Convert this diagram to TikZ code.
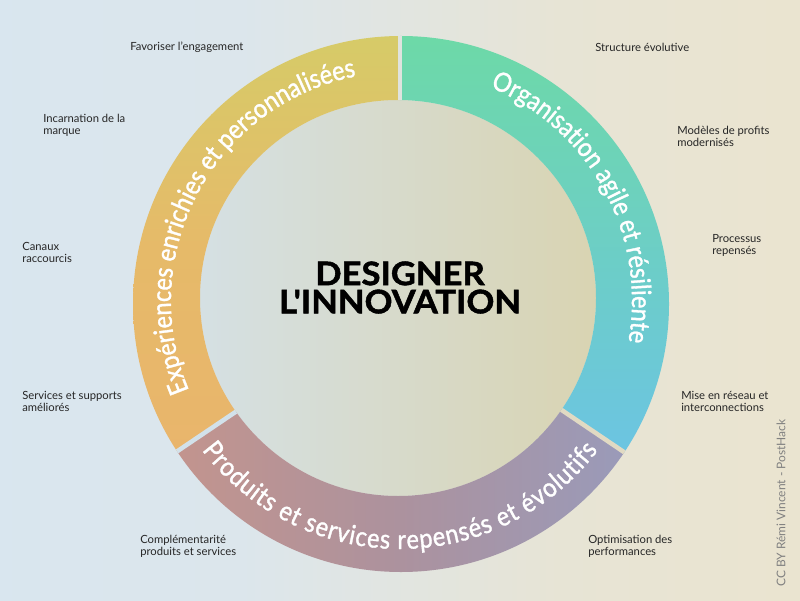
\documentclass[tikz,border=0pt]{standalone}
\usepackage{fontspec}
\setmainfont{Lato}
\newfontfamily\ringfont{Lato}[FakeStretch=0.88, FakeBold=1.3]
\newfontfamily\titlefont{Lato}[FakeStretch=1.07, BoldFeatures={FakeBold=1.6}]
\usetikzlibrary{decorations.text}
\definecolor{bgA}{HTML}{D4E5F3}
\definecolor{bgB}{HTML}{DCE6EC}
\definecolor{bgC}{HTML}{E7E4D5}
\definecolor{bgD}{HTML}{F0E5C7}
\definecolor{discL}{HTML}{D5E0E3}
\definecolor{discR}{HTML}{D9D4B2}
\definecolor{yelT}{HTML}{D6CB68}
\definecolor{yelM}{HTML}{E6BA69}
\definecolor{yelB}{HTML}{E9B56C}
\definecolor{grnT}{HTML}{6DD9A7}
\definecolor{grnB}{HTML}{6CC4E3}
\definecolor{botL}{HTML}{DA977D}
\definecolor{botM}{HTML}{AC929E}
\definecolor{botR}{HTML}{87A3D5}
\definecolor{gapT}{HTML}{DFE3DE}
\definecolor{gapL}{HTML}{D2E1EA}
\definecolor{gapR}{HTML}{E1DAC3}
\pgfdeclarehorizontalshading{bgshade}{100bp}{color(0bp)=(bgA); color(40bp)=(bgB); color(60bp)=(bgC); color(100bp)=(bgD)}
\pgfdeclarehorizontalshading{botshade}{100bp}{color(0bp)=(botL); color(50bp)=(botM); color(100bp)=(botR)}
\tikzset{
  lbl/.style={anchor=north west, inner sep=0pt, align=left, font=\fontsize{8}{8.5}\selectfont, text=black!85},
  ringtext/.style={decorate, decoration={text along path, text align=center, text color=white}},
  gapline/.style={line width=3.2pt}
}
\begin{document}
\begin{tikzpicture}[x=0.025cm,y=0.025cm]
\useasboundingbox (0,0) rectangle (800,600);
\shade[shading=bgshade] (0,0) rectangle (800,600);
\coordinate (C) at (400,299);
\coordinate (O1) at (401,296);
\coordinate (O2) at (398,302);
% inner disc
\shade[left color=discL, right color=discR] (O2) circle[radius=198];
% yellow segment
\begin{scope}[even odd rule]
  \clip (C) -- ([shift={(C)}]90:400) arc[start angle=90, end angle=214, radius=400] -- cycle;
  \clip (O1) circle[radius=268] (O2) circle[radius=198];
  \shade[top color=yelT, bottom color=yelB, middle color=yelM] (130,140) rectangle (402,566);
\end{scope}
% green-blue segment
\begin{scope}[even odd rule]
  \clip (C) -- ([shift={(C)}]-34:400) arc[start angle=-34, end angle=90, radius=400] -- cycle;
  \clip (O1) circle[radius=268] (O2) circle[radius=198];
  \shade[top color=grnT, bottom color=grnB] (398,140) rectangle (672,566);
\end{scope}
% bottom segment
\begin{scope}[even odd rule]
  \clip (C) -- ([shift={(C)}]214:400) arc[start angle=214, end angle=326, radius=400] -- cycle;
  \clip (O1) circle[radius=268] (O2) circle[radius=198];
  \shade[shading=botshade] (170,20) rectangle (630,200);
\end{scope}
% gaps
\begin{scope}[even odd rule]
  \clip (O1) circle[radius=268] (O2) circle[radius=198];
  \draw[gapline, gapT] ([shift={(C)}]90:180) -- ([shift={(C)}]90:290);
  \draw[gapline, gapL] ([shift={(C)}]214:180) -- ([shift={(C)}]214:290);
  \draw[gapline, gapR] ([shift={(C)}]326:180) -- ([shift={(C)}]326:290);
\end{scope}
% ring texts
\path[ringtext, decoration={text={|\ringfont\fontsize{19}{20}\selectfont|Expériences enrichies et personnalisées}}]
  ([shift={(C)}]212:229) arc[start angle=212, end angle=92, radius=229];
\path[ringtext, decoration={text={|\ringfont\fontsize{19}{20}\selectfont|Organisation agile et résiliente}}]
  ([shift={(C)}]88:232) arc[start angle=88, end angle=-31, radius=232];
\path[ringtext, decoration={text align={fit to path}, text={|\ringfont\fontsize{19}{20}\selectfont|Produits et services repensés et évolutifs}}]
  ([shift={(C)}]217:248) arc[start angle=217, end angle=323, radius=248];
% title
\node[align=center, inner sep=0pt, font=\titlefont\fontsize{23}{20}\selectfont\bfseries] (title) at (400,312.5) {DESIGNER\\L\symbol{39}INNOVATION};
% labels
\node[lbl] (l1) at (130,558) {Favoriser l\symbol{39}engagement};
\node[lbl] (l2) at (43,486) {Incarnation de la\\marque};
\node[lbl] (l3) at (22,358) {Canaux\\raccourcis};
\node[lbl] (l4) at (22,209) {Services et supports\\améliorés};
\node[lbl] (l5) at (140,65) {Complémentarité\\produits et services};
\node[lbl] (r1) at (595,557) {Structure évolutive};
\node[lbl] (r2) at (677,474) {Modèles de profits\\modernisés};
\node[lbl] (r3) at (712,366) {Processus\\repensés};
\node[lbl] (r4) at (681,209) {Mise en réseau et\\interconnections};
\node[lbl] (r5) at (588,65) {Optimisation des\\performances};
\node[rotate=90, inner sep=0pt, font=\fontsize{8.5}{9}\selectfont, text=black!50] (cc) at (781,97) {CC BY Rémi Vincent - PostHack};
\end{tikzpicture}
\end{document}
